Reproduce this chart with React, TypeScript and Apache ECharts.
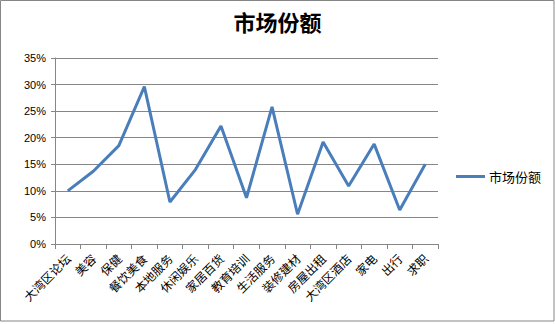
import React, { useEffect, useRef } from "react";
import * as echarts from "echarts";

const categories = [
  "大湾区论坛", "美容", "保健", "餐饮美食", "本地服务", "休闲娱乐", "家居百货", "教育培训",
  "生活服务", "装修建材", "房屋出租", "大湾区酒店", "家电", "出行", "求职",
];
const shareValues = [10.0, 13.7, 18.5, 29.6, 7.9, 14.0, 22.2, 8.7, 25.8, 5.6, 19.2, 10.9, 18.8, 6.4, 15.0];
const seriesName = "市场份额";
const chartTitle = "市场份额";

export default function App() {
  const ref = useRef<HTMLDivElement>(null);
  useEffect(() => {
    document.body.style.margin = "0";
    const chart = echarts.init(ref.current!, null, { renderer: "svg" });
    const gray = "#868686";
    chart.setOption({
      animation: false,
      backgroundColor: "#ffffff",
      title: {
        text: chartTitle,
        left: "center",
        top: 5,
        textStyle: {
          fontFamily: "Noto Sans CJK SC",
          fontSize: 22,
          fontWeight: "bold",
          color: "#000",
        },
      },
      legend: {
        orient: "vertical",
        left: 456,
        top: 170,
        padding: 0,
        icon: "rect",
        itemWidth: 29,
        itemHeight: 3,
        itemGap: 5,
        textStyle: { fontFamily: "Noto Sans CJK SC", fontSize: 13, color: "#000", padding: [0, 0, 0, -1] },
        data: [seriesName],
      },
      grid: { left: 55, right: 117, top: 58, bottom: 80, containLabel: false },
      xAxis: {
        type: "category",
        data: categories,
        boundaryGap: true,
        axisLine: { show: true, lineStyle: { color: gray, width: 1 } },
        axisTick: { show: true, length: 5, interval: 0, lineStyle: { color: gray } },
        axisLabel: {
          interval: 0,
          rotate: 45,
          margin: 12,
          fontFamily: "Noto Sans CJK SC",
          fontSize: 12,
          color: "#000",
        },
        splitLine: { show: false },
      },
      yAxis: {
        type: "value",
        min: 0,
        max: 35,
        interval: 5,
        axisLine: { show: true, lineStyle: { color: gray, width: 1 } },
        axisTick: { show: true, length: 4, lineStyle: { color: gray } },
        axisLabel: {
          formatter: (v: number) => `${v}%`,
          margin: 9,
          fontFamily: "Liberation Sans",
          fontSize: 11,
          color: "#000",
        },
        splitLine: { show: true, lineStyle: { color: gray, width: 1 } },
      },
      series: [
        {
          name: seriesName,
          type: "line",
          data: shareValues,
          symbol: "none",
          showSymbol: false,
          lineStyle: { color: "#4a7ebb", width: 3 },
          itemStyle: { color: "#4a7ebb" },
        },
      ],
      graphic: [
        {
          type: "rect",
          shape: { x: 0.5, y: 0.5, width: 553.5, height: 320.5 },
          style: { fill: "none", stroke: gray, lineWidth: 1 },
          silent: true,
        },
      ],
    });
    return () => chart.dispose();
  }, []);
  return <div ref={ref} style={{ width: 555, height: 324 }} />;
}
